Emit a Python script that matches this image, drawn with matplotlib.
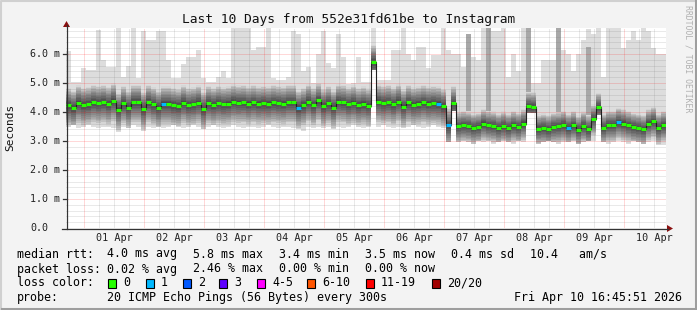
import numpy as np
import matplotlib
matplotlib.use("Agg")
import matplotlib.pyplot as plt
from matplotlib.lines import Line2D
from matplotlib.patches import Polygon, Rectangle
from matplotlib.transforms import blended_transform_factory

W, H = 697, 310

# smokeping data, one value per 2 hour bin starting Mar 31 16:45 (ms)
med = [
    4.23, 4.14, 4.32, 4.24, 4.27, 4.34, 4.30, 4.34, 4.27, 4.39,
    4.08, 4.30, 4.15, 4.34, 4.34, 4.10, 4.34, 4.26, 4.15, 4.28,
    4.28, 4.23, 4.20, 4.32, 4.23, 4.26, 4.32, 4.10, 4.30, 4.24,
    4.30, 4.26, 4.28, 4.35, 4.32, 4.33, 4.28, 4.33, 4.28, 4.30,
    4.28, 4.33, 4.30, 4.28, 4.33, 4.33, 4.14, 4.23, 4.36, 4.23,
    4.40, 4.20, 4.30, 4.15, 4.35, 4.33, 4.26, 4.32, 4.23, 4.28,
    4.22, 5.72, 4.35, 4.30, 4.33, 4.26, 4.36, 4.18, 4.33, 4.25,
    4.28, 4.33, 4.28, 4.30, 4.28, 4.20, 3.54, 4.30, 3.50, 3.54,
    3.52, 3.45, 3.48, 3.60, 3.54, 3.52, 3.45, 3.52, 3.45, 3.54,
    3.48, 3.60, 4.20, 4.18, 3.42, 3.45, 3.40, 3.48, 3.50, 3.55,
    3.45, 3.54, 3.38, 3.52, 3.40, 3.76, 4.17, 3.45, 3.55, 3.55,
    3.65, 3.60, 3.54, 3.48, 3.45, 3.40, 3.60, 3.68, 3.45, 3.54,
]
top = [
    6.10, 5.05, 5.05, 5.50, 5.45, 5.45, 6.83, 5.79, 5.56, 5.56,
    6.90, 5.22, 5.60, 6.90, 5.17, 6.80, 6.48, 6.48, 6.80, 6.80,
    5.80, 5.17, 5.17, 5.65, 5.90, 5.90, 6.14, 5.17, 5.05, 5.05,
    5.20, 5.40, 5.17, 6.90, 6.90, 6.90, 6.90, 6.14, 6.25, 6.25,
    6.90, 5.17, 5.10, 5.10, 5.20, 6.80, 6.70, 5.40, 5.56, 5.00,
    6.00, 6.80, 5.70, 5.50, 6.70, 5.90, 4.95, 5.00, 5.90, 5.05,
    5.05, 6.90, 5.10, 5.10, 5.10, 6.14, 6.14, 6.90, 6.00, 5.80,
    6.25, 6.25, 5.50, 5.95, 5.95, 6.90, 6.14, 6.00, 6.00, 5.56,
    5.90, 5.90, 5.80, 6.90, 6.90, 6.80, 6.80, 6.90, 5.20, 6.00,
    5.40, 6.90, 6.90, 5.00, 5.00, 5.80, 5.80, 5.80, 6.90, 6.14,
    6.00, 5.40, 6.00, 6.50, 6.87, 6.70, 6.90, 5.20, 6.90, 6.90,
    6.90, 6.20, 6.50, 6.80, 6.50, 6.90, 6.80, 6.20, 6.00, 6.00,
]
lo = [
    3.50, 3.55, 3.45, 3.50, 3.55, 3.50, 3.45, 3.50, 3.50, 3.45,
    3.30, 3.50, 3.45, 3.55, 3.50, 3.35, 3.50, 3.45, 3.50, 3.45,
    3.50, 3.55, 3.50, 3.45, 3.50, 3.55, 3.50, 3.40, 3.50, 3.55,
    3.50, 3.45, 3.50, 3.55, 3.50, 3.45, 3.50, 3.50, 3.45, 3.50,
    3.55, 3.50, 3.45, 3.50, 3.50, 3.45, 3.40, 3.35, 3.50, 3.45,
    3.50, 3.45, 3.50, 3.40, 3.50, 3.45, 3.50, 3.55, 3.50, 3.45,
    3.50, 5.45, 3.50, 3.55, 3.50, 3.45, 3.50, 3.45, 3.50, 3.55,
    3.50, 3.45, 3.50, 3.55, 3.50, 3.45, 2.95, 4.05, 2.95, 3.00,
    2.95, 2.90, 3.00, 2.95, 3.00, 2.90, 2.95, 3.00, 2.95, 2.90,
    3.00, 2.95, 3.95, 3.95, 2.90, 2.95, 3.00, 2.95, 2.90, 2.95,
    2.95, 3.00, 2.90, 2.95, 3.00, 3.00, 3.90, 2.95, 2.90, 2.95,
    3.00, 2.95, 2.90, 3.00, 2.95, 2.90, 2.95, 3.00, 2.85, 2.85,
]
loss1_bins = [19, 46, 74, 76, 100, 110]
mid_bins = [80, 84, 92, 98, 104]
mid_top = [6.7, 6.9, 6.9, 6.9, 6.25]
# spread of the dense smoke around the median, before / after the 07 Apr drop
drop_bin = 78
spread_up = [0.6, 0.5]
spread_dn = [0.75, 0.6]

day_labels = ["01 Apr", "02 Apr", "03 Apr", "04 Apr", "05 Apr",
              "06 Apr", "07 Apr", "08 Apr", "09 Apr", "10 Apr"]
ytick_vals = [0, 1, 2, 3, 4, 5, 6]
ytick_labels = ["0.0", "1.0 m", "2.0 m", "3.0 m", "4.0 m", "5.0 m", "6.0 m"]

rtt_label = "median rtt:"
rtt_vals = ["4.0 ms avg", "5.8 ms max", "3.4 ms min", "3.5 ms now",
            "0.4 ms sd", "10.4   am/s"]
pl_label = "packet loss:"
pl_vals = ["0.02 % avg", "2.46 % max", "0.00 % min", "0.00 % now"]
loss_names = ["0", "1", "2", "3", "4-5", "6-10", "11-19", "20/20"]
loss_colors = ["#26ff00", "#00b8ff", "#0059ff", "#5e00ff",
               "#ff00ff", "#ff5500", "#ff0000", "#a10000"]
probe_text = "20 ICMP Echo Pings (56 Bytes) every 300s"
stamp = "Fri Apr 10 16:45:51 2026"

MONO = "DejaVu Sans Mono"

med = np.array(med); top = np.array(top); lo = np.array(lo)
n = len(med)
t0 = 16.75 / 24          # Mar 31 16:45 in days since Mar 31 00:00
bw = 2 / 24
edges = t0 + np.arange(n + 1) * bw
def ext(a):
    return np.r_[a, a[-1]]

up = np.where(np.arange(n) < drop_bin, spread_up[0], spread_up[1])
dn = np.where(np.arange(n) < drop_bin, spread_dn[0], spread_dn[1])

fig = plt.figure(figsize=(W / 100, H / 100), dpi=100, facecolor="#f3f3f3")
ax = fig.add_axes([66 / W, 1 - 228 / H, 600 / W, 200 / H])
ax.set_facecolor("white")
ax.set_xlim(t0, t0 + 10)
ax.set_ylim(0, 200 / 29)
ax.set_xticks([]); ax.set_yticks([])
for s in ax.spines.values():
    s.set_visible(False)

# smoke
ax.fill_between(edges, ext(lo), ext(top), step="post", color="#dddddd", lw=0, zorder=1)
for b, mt in zip(mid_bins, mid_top):
    ax.fill_between(edges[b:b + 2], [lo[b]] * 2, [mt] * 2, step="post",
                    color="#a8a8a8", lw=0, zorder=1.2)
levels = 12
for k in range(levels):
    f = 1 - k / levels
    g = 0.84 - 0.56 * (k / (levels - 1)) ** 0.8
    lower = np.maximum(lo, med - dn * f)
    upper = np.minimum(np.maximum(top, med), med + up * f)
    ax.fill_between(edges, ext(lower), ext(upper), step="post",
                    color=(g, g, g), lw=0, zorder=1.5)

# grid
dot = (0, (1, 1))
red = (1, 0, 0, 0.3)
gray = (0.45, 0.45, 0.45, 0.3)
for v in np.arange(0.2, 6.9, 0.2):
    major = abs(v - round(v)) < 1e-6
    ax.axhline(v, color=red if major else gray, lw=0.72, ls=dot, zorder=3)
for d in np.arange(1, 10.75, 0.25):
    major = abs(d - round(d)) < 1e-6
    ax.axvline(d, color=red if major else gray, lw=0.72, ls=dot, zorder=3)

# median
ax.step(edges, ext(med), where="post", color="#202020", lw=0.8, zorder=4)
cols = [loss_colors[1] if i in loss1_bins else loss_colors[0] for i in range(n)]
ax.hlines(med, edges[:-1], edges[1:], colors=cols, lw=2.2, zorder=5)

# axes lines and arrows (figure pixels)
def P(x, y):
    return (x / W, 1 - y / H)
tf = fig.transFigure
fig.add_artist(Line2D(*zip(P(66.5, 229), P(66.5, 25)), transform=tf, color="#333333", lw=0.9))
fig.add_artist(Line2D(*zip(P(62, 228.5), P(668, 228.5)), transform=tf, color="#333333", lw=0.9))
fig.add_artist(Polygon([P(63, 27), P(70, 27), P(66.5, 21)], closed=True, transform=tf,
                       color="#8b1010", lw=0))
fig.add_artist(Polygon([P(667, 225), P(667, 232), P(673, 228.5)], closed=True, transform=tf,
                       color="#8b1010", lw=0))
for v in ytick_vals[1:]:
    y = 228 - v * 29
    fig.add_artist(Line2D(*zip(P(63, y), P(66.5, y)), transform=tf, color="#333333", lw=0.9))

# tick labels
ty = blended_transform_factory(fig.transFigure, ax.transData)
for v, lab in zip(ytick_vals, ytick_labels):
    ax.text(30 / W, v, lab, transform=ty, ha="left", va="center",
            family=MONO, fontsize=7.2, color="#222222")
tx = blended_transform_factory(ax.transData, fig.transFigure)
for i, lab in enumerate(day_labels):
    ax.text(i + 1.5, 1 - 238 / H, lab, transform=tx, ha="center", va="center",
            family=MONO, fontsize=7.3, color="#222222")

fig.text(*P(348.5, 19), "Last 10 Days from 552e31fd61be to Instagram",
         ha="center", va="center", family=MONO, fontsize=9.3, color="#111111")
fig.text(*P(10.5, 127), "Seconds", rotation=90, ha="center", va="center",
         family=MONO, fontsize=8, color="#111111")
fig.text(*P(688, 59), "RRDTOOL / TOBI OETIKER", rotation=270, ha="center", va="center",
         family=MONO, fontsize=5.9, color="#b0b0b0")

# legend
fs = 8.4
fig.text(*P(16.7, 254), rtt_label, ha="left", va="center", family=MONO, fontsize=fs)
for x, s in zip([107, 193, 279, 365, 451, 530], rtt_vals):
    fig.text(*P(x, 254), s, ha="left", va="center", family=MONO, fontsize=fs)
fig.text(*P(16.7, 269), pl_label, ha="left", va="center", family=MONO, fontsize=fs)
for x, s in zip([107, 193, 279, 365], pl_vals):
    fig.text(*P(x, 269), s, ha="left", va="center", family=MONO, fontsize=fs)
fig.text(*P(16.7, 283), "loss color:", ha="left", va="center", family=MONO, fontsize=fs)
for x, name, c in zip([108, 146, 183, 219, 257, 307, 366, 432], loss_names, loss_colors):
    fig.add_artist(Rectangle(P(x, 287.5), 8 / W, 9 / H, transform=tf,
                             facecolor=c, edgecolor="black", lw=0.8))
    fig.text(*P(x + 15, 283), name, ha="left", va="center", family=MONO, fontsize=fs)
fig.text(*P(16.7, 297), "probe:", ha="left", va="center", family=MONO, fontsize=fs)
fig.text(*P(107, 297), probe_text, ha="left", va="center", family=MONO, fontsize=fs)
fig.text(*P(682, 297), stamp, ha="right", va="center", family=MONO, fontsize=fs)

# frame
fig.add_artist(Line2D([0.5 / W, 0.5 / W, 1], [0, 1 - 0.5 / H, 1 - 0.5 / H], transform=tf,
                      color="#d0d0d0", lw=1.5))
fig.add_artist(Line2D([1.5 / W, 1 - 1.5 / W, 1 - 1.5 / W], [1.5 / H, 1.5 / H, 1], transform=tf,
                      color="#9e9e9e", lw=2.2))

fig.savefig("out.png", dpi=100, facecolor=fig.get_facecolor())
